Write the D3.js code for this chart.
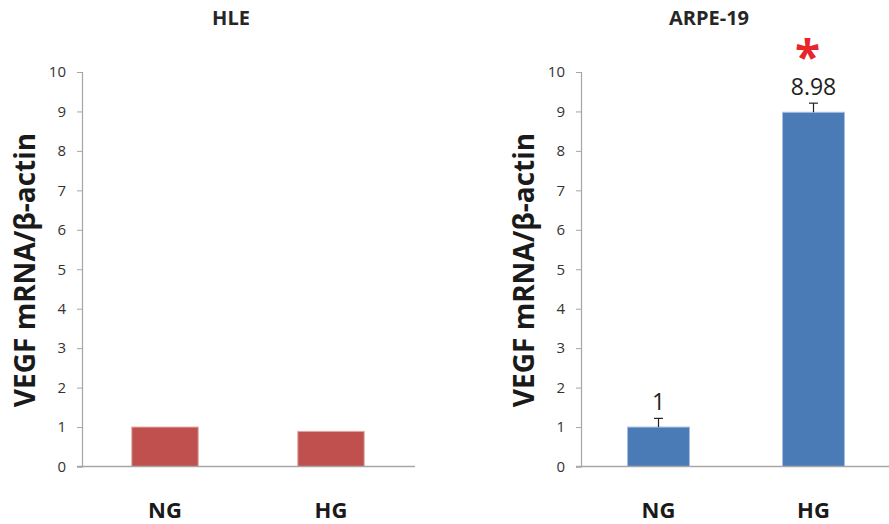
<!DOCTYPE html>
<html>
<head>
<meta charset="utf-8">
<script src="https://cdn.jsdelivr.net/npm/d3@7"></script>
<style>
  body { margin: 0; background: #fff; }
  svg text { font-family: "Open Sans", "Liberation Sans", sans-serif; }
</style>
</head>
<body>
<svg width="889" height="524"></svg>
<script>
var svg = d3.select("svg");

// data
var categories = ["NG", "HG"];
var hleValues = [1.0, 0.89];
var arpeValues = [1.0, 8.98];
var arpeErrors = [0.22, 0.23];
var arpeLabels = ["1", "8.98"];
var yTicks = [0, 1, 2, 3, 4, 5, 6, 7, 8, 9, 10];
var yLabel = "VEGF mRNA/\u03b2-actin";

var panels = [
  { title: "HLE", titleX: 231, x0: 82, x1: 414, axisEnd: 415, labelX: 35,
    values: hleValues, color: "#c0504d", stroke: "#e0a7a5" },
  { title: "ARPE-19", titleX: 709, x0: 581, x1: 891, axisEnd: 889, labelX: 534,
    values: arpeValues, errors: arpeErrors, labels: arpeLabels, star: 1,
    color: "#4a7bb7", stroke: "#a9c1e0" }
];

var y = d3.scaleLinear().domain([0, 10]).range([466.5, 72]);

panels.forEach(function(p) {
  var g = svg.append("g");

  var x = d3.scaleBand()
      .domain(categories)
      .range([p.x0, p.x1])
      .paddingInner(0.6)
      .paddingOuter(0.3);

  // title
  g.append("text")
      .attr("x", p.titleX)
      .attr("y", 25)
      .attr("text-anchor", "middle")
      .style("font-size", "20px")
      .style("font-weight", "bold")
      .style("fill", "#262626")
      .text(p.title);

  // y axis
  var yAxis = g.append("g")
      .attr("transform", "translate(" + p.x0 + ",0)")
      .call(d3.axisLeft(y).tickValues(yTicks).tickSize(5).tickPadding(11));
  yAxis.select(".domain").attr("stroke", "#a6a6a6").attr("stroke-width", 1.2);
  yAxis.selectAll(".tick line").attr("stroke", "#a6a6a6");
  yAxis.selectAll(".tick text")
      .style("font-size", "15px")
      .style("fill", "#333")
      .style("font-family", "'Open Sans', sans-serif");

  // y label
  g.append("text")
      .attr("transform", "translate(" + p.labelX + "," + 270 + ") rotate(-90)")
      .attr("text-anchor", "middle")
      .style("font-size", "28px")
      .style("font-weight", "bold")
      .style("fill", "#1a1a1a")
      .text(yLabel);

  // bars
  g.selectAll("rect.bar")
      .data(p.values)
      .enter().append("rect")
      .attr("class", "bar")
      .attr("x", function(d, i) { return x(categories[i]); })
      .attr("y", function(d) { return y(d); })
      .attr("width", x.bandwidth())
      .attr("height", function(d) { return y(0) - y(d); })
      .attr("fill", p.color)
      .attr("stroke", p.stroke)
      .attr("stroke-width", 1);

  // x axis line
  g.append("line")
      .attr("x1", p.x0 - 5).attr("x2", p.axisEnd)
      .attr("y1", y(0)).attr("y2", y(0))
      .attr("stroke", "#a6a6a6")
      .attr("stroke-width", 1.5);

  // category labels
  g.selectAll("text.cat")
      .data(categories)
      .enter().append("text")
      .attr("class", "cat")
      .attr("x", function(d) { return x(d) + x.bandwidth() / 2; })
      .attr("y", 518)
      .attr("text-anchor", "middle")
      .style("font-size", "22px")
      .style("font-weight", "bold")
      .style("fill", "#1a1a1a")
      .text(function(d) { return d; });

  // error bars (upper only)
  if (p.errors) {
    var eb = g.selectAll("g.err")
        .data(p.values)
        .enter().append("g")
        .attr("class", "err");
    eb.append("line")
        .attr("x1", function(d, i) { return x(categories[i]) + x.bandwidth() / 2; })
        .attr("x2", function(d, i) { return x(categories[i]) + x.bandwidth() / 2; })
        .attr("y1", function(d) { return y(d); })
        .attr("y2", function(d, i) { return y(d + p.errors[i]); })
        .attr("stroke", "#222").attr("stroke-width", 1.2);
    eb.append("line")
        .attr("x1", function(d, i) { return x(categories[i]) + x.bandwidth() / 2 - 4.5; })
        .attr("x2", function(d, i) { return x(categories[i]) + x.bandwidth() / 2 + 4.5; })
        .attr("y1", function(d, i) { return y(d + p.errors[i]); })
        .attr("y2", function(d, i) { return y(d + p.errors[i]); })
        .attr("stroke", "#222").attr("stroke-width", 1.2);
  }

  // value labels
  if (p.labels) {
    g.selectAll("text.val")
        .data(p.values)
        .enter().append("text")
        .attr("class", "val")
        .attr("x", function(d, i) { return x(categories[i]) + x.bandwidth() / 2; })
        .attr("y", function(d, i) { return y(d + p.errors[i]) - 8; })
        .attr("text-anchor", "middle")
        .style("font-size", "23px")
        .style("fill", "#222")
        .text(function(d, i) { return p.labels[i]; });
  }

  // significance star, sits just over the value label
  if (p.star !== undefined) {
    var cx = x(categories[p.star]) + x.bandwidth() / 2 - 6;
    g.append("text")
        .attr("x", cx)
        .attr("y", y(p.values[p.star] + p.errors[p.star]) - 29)
        .attr("text-anchor", "middle")
        .style("font-size", "46px")
        .style("font-weight", "bold")
        .style("fill", "#e8262a")
        .text("*");
  }
});
</script>
</body>
</html>
